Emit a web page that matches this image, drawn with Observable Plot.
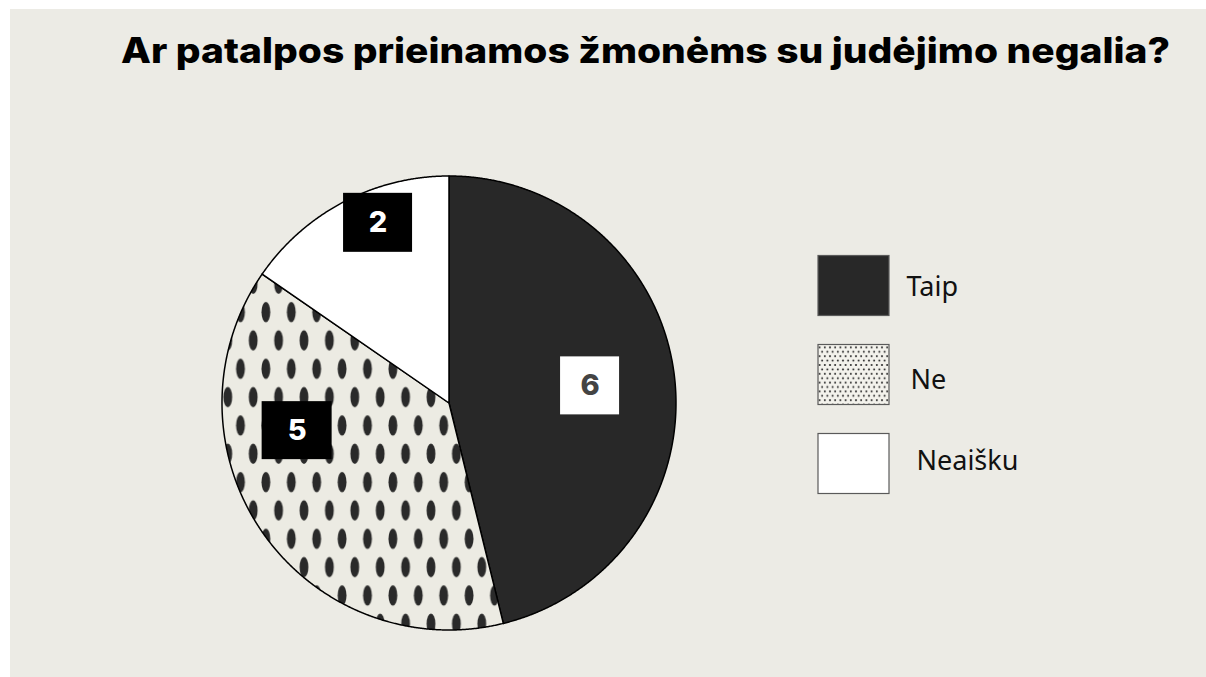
<!DOCTYPE html>
<html>
<head>
<meta charset="utf-8">
<script src="https://cdn.jsdelivr.net/npm/d3@7"></script>
<script src="https://cdn.jsdelivr.net/npm/@observablehq/plot@0.6"></script>
<style>
  html, body { margin: 0; padding: 0; background: #ffffff; overflow: hidden; width: 1206px; height: 677px; }
  #bg { position: absolute; left: 10px; top: 9px; right: 0; bottom: 0; background: #ECEBE5; }
  #title { position: absolute; left: 121px; top: 33px; font-family: Inter, sans-serif; font-weight: 800;
           font-size: 35px; line-height: 35px; color: #000; white-space: nowrap; transform-origin: 0 0; }
  #pie { position: absolute; left: 0; top: 0; }
  #legend { position: absolute; left: 818px; top: 240.5px; }
  #defs { position: absolute; width: 0; height: 0; }
</style>
</head>
<body>
<div id="bg"></div>
<svg id="defs" width="0" height="0">
  <defs>
    <pattern id="ovals" patternUnits="userSpaceOnUse" x="227.3" y="354.1" width="25.4" height="56.67">
      <rect width="25.4" height="56.67" fill="#ECEBE3"></rect>
      <ellipse cx="12.7" cy="14.17" rx="4.4" ry="10.2" fill="#2a2a2a"></ellipse>
      <ellipse cx="0" cy="42.5" rx="4.4" ry="10.2" fill="#2a2a2a"></ellipse>
      <ellipse cx="25.4" cy="42.5" rx="4.4" ry="10.2" fill="#2a2a2a"></ellipse>
    </pattern>
    <pattern id="finedots" patternUnits="userSpaceOnUse" x="818" y="344" width="5.2" height="8.8">
      <rect width="5.2" height="8.8" fill="#F3F2EC"></rect>
      <circle cx="0" cy="0" r="1.05" fill="#2e2e2e"></circle>
      <circle cx="5.2" cy="0" r="1.05" fill="#2e2e2e"></circle>
      <circle cx="0" cy="8.8" r="1.05" fill="#2e2e2e"></circle>
      <circle cx="5.2" cy="8.8" r="1.05" fill="#2e2e2e"></circle>
      <circle cx="2.6" cy="4.4" r="1.05" fill="#2e2e2e"></circle>
    </pattern>
  </defs>
</svg>
<div id="title">Ar patalpos prieinamos žmonėms su judėjimo negalia?</div>
<div id="pie"></div>
<div id="legend"></div>
<script>
// ---- data ----
const categories = ["Taip", "Ne", "Neaišku"];
const values = [6, 5, 2];
const valueLabels = ["6", "5", "2"];

// ---- styling / layout (not data) ----
const cx = 448.5, cy = 402.5, R = 227;
const pieFills = ["#282828", "url(#ovals)", "#ffffff"];
const legendFills = ["#282828", "url(#finedots)", "#ffffff"];
// label placement: fraction of radius, angular nudge (degrees), box size in px
const labelPlace = {
  "Taip":    {k: 0.626, da: 0,    w: 59, h: 58, box: "#ffffff", ink: "#444444"},
  "Ne":      {k: 0.68,  da: 24.3, w: 70, h: 58, box: "#000000", ink: "#ffffff"},
  "Neaišku": {k: 0.853, da: 6.2,  w: 69, h: 59, box: "#000000", ink: "#ffffff"}
};
const legendNudge = { "Taip": {dx: 52.5, dy: 1}, "Ne": {dx: 56.5, dy: 5}, "Neaišku": {dx: 62.5, dy: -3} };

// stretch the title horizontally to its width in the reference
(function fitTitle() {
  const t = document.getElementById("title");
  const target = 1049;
  const w = t.getBoundingClientRect().width;
  t.style.transform = "scaleX(" + (target / w) + ")";
})();

const data = categories.map((c, i) => ({cat: c, value: values[i], label: valueLabels[i]}));
const arcs = d3.pie().sort(null).value(d => d.value)(data);

// slice polygons in unit coordinates (y up), angle clockwise from top
const slicePts = [];
for (const a of arcs) {
  slicePts.push({cat: a.data.cat, x: 0, y: 0});
  const n = Math.max(2, Math.ceil((a.endAngle - a.startAngle) / (Math.PI / 720)));
  for (let j = 0; j <= n; j++) {
    const t = a.startAngle + (a.endAngle - a.startAngle) * j / n;
    slicePts.push({cat: a.data.cat, x: Math.sin(t), y: Math.cos(t)});
  }
}

const labelPts = arcs.map(a => {
  const p = labelPlace[a.data.cat];
  const t = (a.startAngle + a.endAngle) / 2 + p.da * Math.PI / 180;
  const x = p.k * Math.sin(t), y = p.k * Math.cos(t);
  const hw = p.w / 2 / R, hh = p.h / 2 / R;
  return {cat: a.data.cat, label: a.data.label, x, y, x1: x - hw, x2: x + hw, y1: y - hh, y2: y + hh, box: p.box, ink: p.ink};
});

const pie = Plot.plot({
  width: 1206,
  height: 677,
  style: {background: "transparent", overflow: "visible"},
  x: {domain: [-1, 1], range: [cx - R, cx + R], axis: null},
  y: {domain: [-1, 1], range: [cy + R, cy - R], axis: null},
  color: {type: "ordinal", domain: categories, range: pieFills},
  marks: [
    Plot.line(slicePts, {x: "x", y: "y", z: "cat", fill: "cat", stroke: "#000", strokeWidth: 1.5,
      strokeLinejoin: "round", curve: "linear-closed"}),
    ...labelPts.map(d => Plot.rect([d], {x1: "x1", x2: "x2", y1: "y1", y2: "y2", fill: d.box})),
    ...labelPts.map(d => Plot.text([d], {x: "x", y: "y", text: "label", fill: d.ink,
      fontSize: 29, fontWeight: 800, fontFamily: "Inter, sans-serif"}))
  ]
});
document.getElementById("pie").appendChild(pie);

const legend = Plot.plot({
  width: 260,
  height: 267,
  marginLeft: 0, marginRight: 189, marginTop: 0, marginBottom: 0,
  style: {background: "transparent", overflow: "visible"},
  x: {type: "band", domain: ["swatch"], padding: 0, axis: null},
  y: {type: "band", domain: categories, padding: 0, axis: null},
  color: {type: "ordinal", domain: categories, range: legendFills},
  marks: [
    Plot.cell(categories, {x: () => "swatch", y: d => d, fill: d => d, stroke: "#5a5a5a", strokeWidth: 1.2,
      insetTop: 14.5, insetBottom: 14.5}),
    ...categories.map(c => Plot.text([c], {x: () => "swatch", y: d => d, text: d => d,
      dx: legendNudge[c].dx, dy: legendNudge[c].dy, textAnchor: "start",
      fontSize: 27, fontFamily: "'Noto Sans', sans-serif", fill: "#111"}))
  ]
});
document.getElementById("legend").appendChild(legend);
</script>
</body>
</html>
